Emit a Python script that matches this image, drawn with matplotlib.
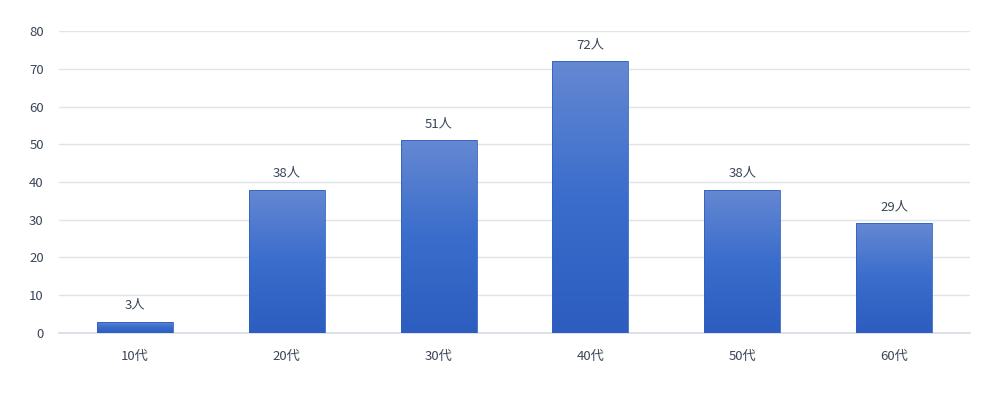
import numpy as np
import matplotlib.pyplot as plt
from matplotlib.colors import LinearSegmentedColormap

plt.rcParams['font.family'] = ['Noto Sans CJK JP', 'DejaVu Sans']

categories = ["10代", "20代", "30代", "40代", "50代", "60代"]
values = [3, 38, 51, 72, 38, 29]
labels = ["3人", "38人", "51人", "72人", "38人", "29人"]

txt = "#3c4658"

fig = plt.figure(figsize=(10, 3.93), dpi=100)
ax = fig.add_axes([0.059, 0.153, 0.911, 0.768])

x = np.arange(len(categories))
bars = ax.bar(x, values, width=0.5, color="none", edgecolor="none", zorder=3)

# gradient fill, darker at the bottom
cmap = LinearSegmentedColormap.from_list("g", ["#2c5dbf", "#3a6dcc", "#6588d2"])
grad = np.linspace(0, 1, 256).reshape(-1, 1)
for b in bars:
    x0, y0 = b.get_x(), b.get_y()
    w, h = b.get_width(), b.get_height()
    im = ax.imshow(grad, cmap=cmap, aspect="auto", origin="lower",
                   extent=[x0, x0 + w, y0, y0 + h], zorder=3)
    im.set_clip_path(b)
    ax.bar(b.get_x() + w / 2, h, width=w, color="none",
           edgecolor="#3060c0", linewidth=0.6, zorder=4)

for xi, v, lab in zip(x, values, labels):
    ax.text(xi, v + 2.6, lab, ha="center", va="bottom", fontsize=9.5, color=txt)

ax.set_xlim(-0.5, 5.5)
ax.set_ylim(0, 80)
ax.set_yticks(range(0, 81, 10))
ax.set_xticks(x)
ax.set_xticklabels(categories)
ax.tick_params(axis="both", length=0, labelsize=9.5, labelcolor=txt)
ax.tick_params(axis="y", pad=11)
ax.tick_params(axis="x", pad=12)
ax.grid(axis="y", color="#e0e3e8", linewidth=1, zorder=0)
ax.axhline(0, color="#d8dce3", linewidth=1.2, zorder=2, clip_on=False)
ax.set_axisbelow(True)
for s in ax.spines.values():
    s.set_visible(False)

fig.savefig("out.png", dpi=100)
